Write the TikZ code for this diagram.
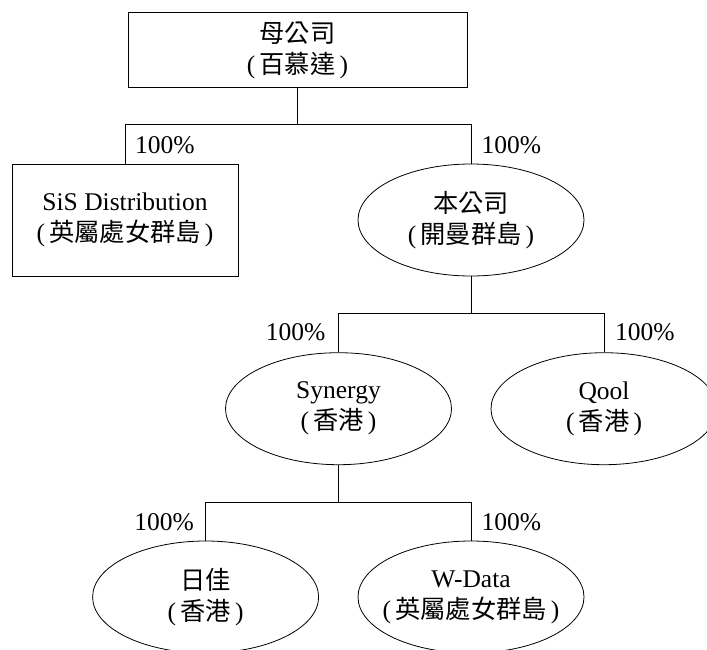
\documentclass[tikz,border=0pt]{standalone}
\usepackage{fontspec}
\setmainfont{Liberation Serif}
\newfontfamily\cjk[Scale=0.99]{Noto Sans CJK TC}
\usetikzlibrary{shapes.geometric}
\begin{document}
\begin{tikzpicture}[x=1pt,y=-1pt,
  every node/.style={font=\fontsize{25.5}{31}\selectfont, align=center, inner sep=0pt},
  box/.style={draw, rectangle, line width=0.8pt},
  ell/.style={draw, ellipse, line width=0.8pt, minimum width=226pt, minimum height=112pt},
  link/.style={line width=0.8pt}]
\useasboundingbox (0,0) rectangle (707,649);
\clip (0,0) rectangle (707,649);

% boxes and ellipses
\node[box, minimum width=339pt, minimum height=74.5pt] (top) at (297.5,50) {};
\node (toptxt) at (top) {{\cjk 母公司}\\(\,{\cjk 百慕達}\,)};

\node[box, minimum width=226pt, minimum height=112pt] (sis) at (125,220) {};
\node (sistxt) at (sis) {SiS Distribution\\(\,{\cjk 英屬處女群島}\,)};

\node[ell] (ben) at (471,220) {};
\node (bentxt) at (ben) {{\cjk 本公司}\\(\,{\cjk 開曼群島}\,)};

\node[ell] (syn) at (338.5,408.7) {};
\node (syntxt) at (syn) {Synergy\\(\,{\cjk 香港}\,)};

\node[ell] (qool) at (604,408.7) {};
\node (qooltxt) at (qool) {Qool\\(\,{\cjk 香港}\,)};

\node[ell] (rijia) at (205.6,597) {};
\node (rijiatxt) at (rijia) {{\cjk 日佳}\\(\,{\cjk 香港}\,)};

\node[ell] (wdata) at (471,597) {};
\node (wdatatxt) at (wdata) {W-Data\\(\,{\cjk 英屬處女群島}\,)};

% connectors
\coordinate (y1) at (0,124.3);
\coordinate (y2) at (0,313.3);
\coordinate (y3) at (0,502);
\coordinate (b1) at (top.south |- y1);
\coordinate (b2) at (ben.south |- y2);
\coordinate (b3) at (syn.south |- y3);
\draw[link] (top.south) -- (b1);
\draw[link] (sis.north) |- (b1) -| (ben.north);
\draw[link] (ben.south) -- (b2);
\draw[link] (syn.north) |- (b2) -| (qool.north);
\draw[link] (syn.south) -- (b3);
\draw[link] (rijia.north) |- (b3) -| (wdata.north);

% percentages
\node[anchor=west] (p1) at (135,145) {100\%};
\node[anchor=west] (p2) at (481.5,145) {100\%};
\node[anchor=east] (p3) at (325.5,332) {100\%};
\node[anchor=west] (p4) at (615,332) {100\%};
\node[anchor=east] (p5) at (194,521.7) {100\%};
\node[anchor=west] (p6) at (481.5,521.7) {100\%};
\end{tikzpicture}
\end{document}
